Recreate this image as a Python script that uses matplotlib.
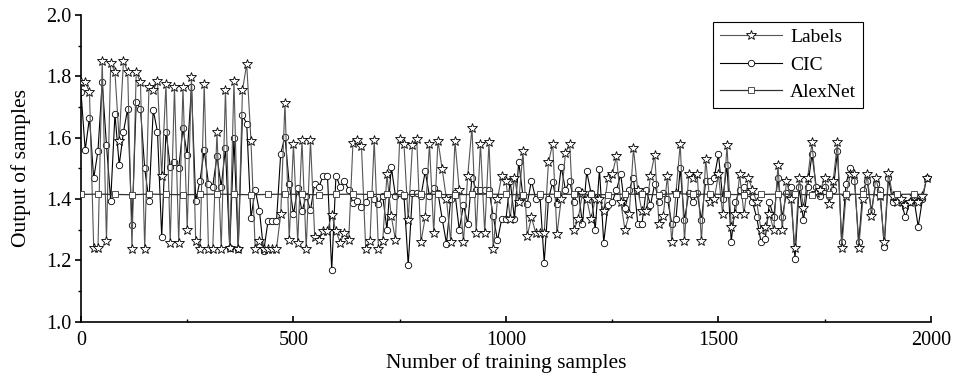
from matplotlib import pyplot as plt
from matplotlib.ticker import MultipleLocator
import numpy as np

# samples are every 10 training samples, 0 .. 1990
step = 10

labels = [
    1.78, 1.78, 1.75, 1.24, 1.24, 1.85, 1.264, 1.845, 1.814, 1.59,
    1.85, 1.814, 1.237, 1.815, 1.78, 1.237, 1.765, 1.755, 1.785, 1.476,
    1.774, 1.258, 1.765, 1.258, 1.765, 1.30, 1.798, 1.264, 1.237, 1.776,
    1.237, 1.237, 1.617, 1.237, 1.755, 1.24, 1.785, 1.237, 1.755, 1.84,
    1.59, 1.237, 1.264, 1.237, 1.237, 1.237, 1.237, 1.35, 1.714, 1.267,
    1.58, 1.258, 1.592, 1.237, 1.592, 1.277, 1.267, 1.296, 1.296, 1.349,
    1.296, 1.258, 1.29, 1.267, 1.584, 1.594, 1.572, 1.237, 1.264, 1.592,
    1.237, 1.264, 1.48, 1.345, 1.267, 1.595, 1.58, 1.33, 1.577, 1.595,
    1.26, 1.34, 1.58, 1.29, 1.59, 1.497, 1.40, 1.26, 1.59, 1.43,
    1.26, 1.476, 1.633, 1.29, 1.58, 1.29, 1.585, 1.237, 1.40, 1.476,
    1.46, 1.335, 1.47, 1.39, 1.555, 1.28, 1.34, 1.29, 1.29, 1.29,
    1.52, 1.58, 1.285, 1.40, 1.55, 1.58, 1.30, 1.335, 1.42, 1.40,
    1.335, 1.40, 1.40, 1.36, 1.47, 1.48, 1.54, 1.39, 1.30, 1.35,
    1.565, 1.43, 1.36, 1.36, 1.476, 1.545, 1.32, 1.345, 1.476, 1.26,
    1.42, 1.58, 1.264, 1.48, 1.47, 1.48, 1.264, 1.53, 1.39, 1.40,
    1.48, 1.35, 1.575, 1.31, 1.35, 1.48, 1.35, 1.47, 1.43, 1.39,
    1.30, 1.31, 1.35, 1.30, 1.51, 1.30, 1.46, 1.40, 1.24, 1.47,
    1.37, 1.47, 1.585, 1.42, 1.43, 1.47, 1.385, 1.46, 1.585, 1.24,
    1.41, 1.48, 1.48, 1.24, 1.40, 1.48, 1.345, 1.47, 1.41, 1.26,
    1.485, 1.41, 1.39, 1.40, 1.38, 1.39, 1.41, 1.39, 1.41, 1.47,
]

cic = [
    1.75, 1.56, 1.665, 1.467, 1.557, 1.78, 1.577, 1.394, 1.677, 1.511,
    1.619, 1.695, 1.315, 1.716, 1.695, 1.5, 1.394, 1.69, 1.62, 1.277,
    1.62, 1.506, 1.522, 1.5, 1.63, 1.544, 1.765, 1.394, 1.459, 1.559,
    1.45, 1.44, 1.54, 1.44, 1.565, 1.24, 1.598, 1.237, 1.673, 1.646,
    1.338, 1.43, 1.36, 1.23, 1.327, 1.327, 1.327, 1.548, 1.603, 1.45,
    1.35, 1.437, 1.36, 1.41, 1.363, 1.45, 1.44, 1.476, 1.476, 1.168,
    1.476, 1.44, 1.46, 1.43, 1.387, 1.394, 1.375, 1.39, 1.417, 1.40,
    1.385, 1.41, 1.30, 1.506, 1.41, 1.42, 1.41, 1.185, 1.42, 1.42,
    1.41, 1.49, 1.41, 1.437, 1.42, 1.335, 1.255, 1.40, 1.42, 1.30,
    1.38, 1.32, 1.47, 1.43, 1.43, 1.43, 1.43, 1.345, 1.265, 1.335,
    1.335, 1.46, 1.335, 1.52, 1.41, 1.385, 1.46, 1.40, 1.41, 1.193,
    1.40, 1.455, 1.385, 1.505, 1.43, 1.46, 1.39, 1.43, 1.318, 1.49,
    1.42, 1.30, 1.497, 1.258, 1.38, 1.39, 1.43, 1.48, 1.37, 1.43,
    1.47, 1.32, 1.32, 1.43, 1.38, 1.45, 1.39, 1.42, 1.40, 1.32,
    1.335, 1.50, 1.33, 1.42, 1.39, 1.42, 1.33, 1.46, 1.46, 1.47,
    1.546, 1.40, 1.51, 1.26, 1.39, 1.43, 1.44, 1.42, 1.39, 1.34,
    1.26, 1.27, 1.39, 1.34, 1.47, 1.34, 1.42, 1.44, 1.204, 1.44,
    1.33, 1.44, 1.546, 1.44, 1.41, 1.44, 1.41, 1.43, 1.556, 1.26,
    1.45, 1.50, 1.46, 1.26, 1.43, 1.46, 1.36, 1.45, 1.43, 1.245,
    1.47, 1.39, 1.40, 1.39, 1.34, 1.39, 1.40, 1.31, 1.40, 1.47,
]

# AlexNet output, one value every 40 samples plus the last sample
alexnet_x = list(range(0, 2000, 40)) + [1990]
alexnet = [
    1.415, 1.416, 1.415, 1.414, 1.416, 1.415, 1.414, 1.415, 1.416, 1.415,
    1.414, 1.415, 1.416, 1.415, 1.414, 1.415, 1.416, 1.415, 1.415, 1.414,
    1.416, 1.415, 1.414, 1.415, 1.416, 1.415, 1.414, 1.415, 1.416, 1.415,
    1.415, 1.414, 1.416, 1.415, 1.414, 1.418, 1.415, 1.416, 1.415, 1.414,
    1.415, 1.416, 1.415, 1.414, 1.415, 1.416, 1.415, 1.414, 1.415, 1.416,
    1.415,
]

x = np.arange(len(labels)) * step

plt.rcParams["font.family"] = ["Liberation Serif", "DejaVu Serif"]

fig = plt.figure("Outputs", figsize=(9.57, 3.80), dpi=100)
ax = fig.add_axes([0.0846, 0.1534, 0.8882, 0.8071])

ax.plot(x, labels, color="#555555", lw=0.8, marker="*", ms=7,
        mfc="white", mec="black", mew=0.6, label="Labels", zorder=3)
ax.plot(x, cic, color="black", lw=0.8, marker="o", ms=4.6,
        mfc="white", mec="black", mew=0.6, label="CIC", zorder=2)
ax.plot(alexnet_x, alexnet, color="#333333", lw=0.9, marker="s", ms=3.8,
        mfc="white", mec="#333333", mew=0.6, markevery=slice(0, 50),
        label="AlexNet", zorder=4)

ax.set_xlim(0, 2000)
ax.set_ylim(1.0, 2.0)
ax.xaxis.set_major_locator(MultipleLocator(500))
ax.xaxis.set_minor_locator(MultipleLocator(250))
ax.yaxis.set_major_locator(MultipleLocator(0.2))
ax.yaxis.set_minor_locator(MultipleLocator(0.1))
ax.yaxis.set_major_formatter(plt.FormatStrFormatter("%.1f"))

for side in ("top", "right"):
    ax.spines[side].set_visible(False)
for side in ("left", "bottom"):
    ax.spines[side].set_linewidth(1.2)

ax.tick_params(axis="x", which="major", direction="in", length=4.5, width=1.2,
               labelsize=14.5, pad=7)
ax.tick_params(axis="x", which="minor", direction="in", length=2.5, width=1.0)
ax.tick_params(axis="y", which="major", direction="out", length=4, width=1.2,
               labelsize=14.5, pad=3)
ax.tick_params(axis="y", which="minor", direction="out", length=2.5, width=1.0)

ax.set_xlabel("Number of training samples", fontsize=15.5, labelpad=2)
ax.set_ylabel("Output of samples", fontsize=15.5, labelpad=11)

leg = ax.legend(loc="upper right", bbox_to_anchor=(0.92, 0.978), fontsize=14,
                fancybox=False, edgecolor="black", framealpha=1,
                handlelength=3.2, borderpad=0.35, labelspacing=0.5,
                handletextpad=0.4, borderaxespad=0)
leg.get_frame().set_linewidth(0.8)

fig.savefig("out.png", dpi=100)
